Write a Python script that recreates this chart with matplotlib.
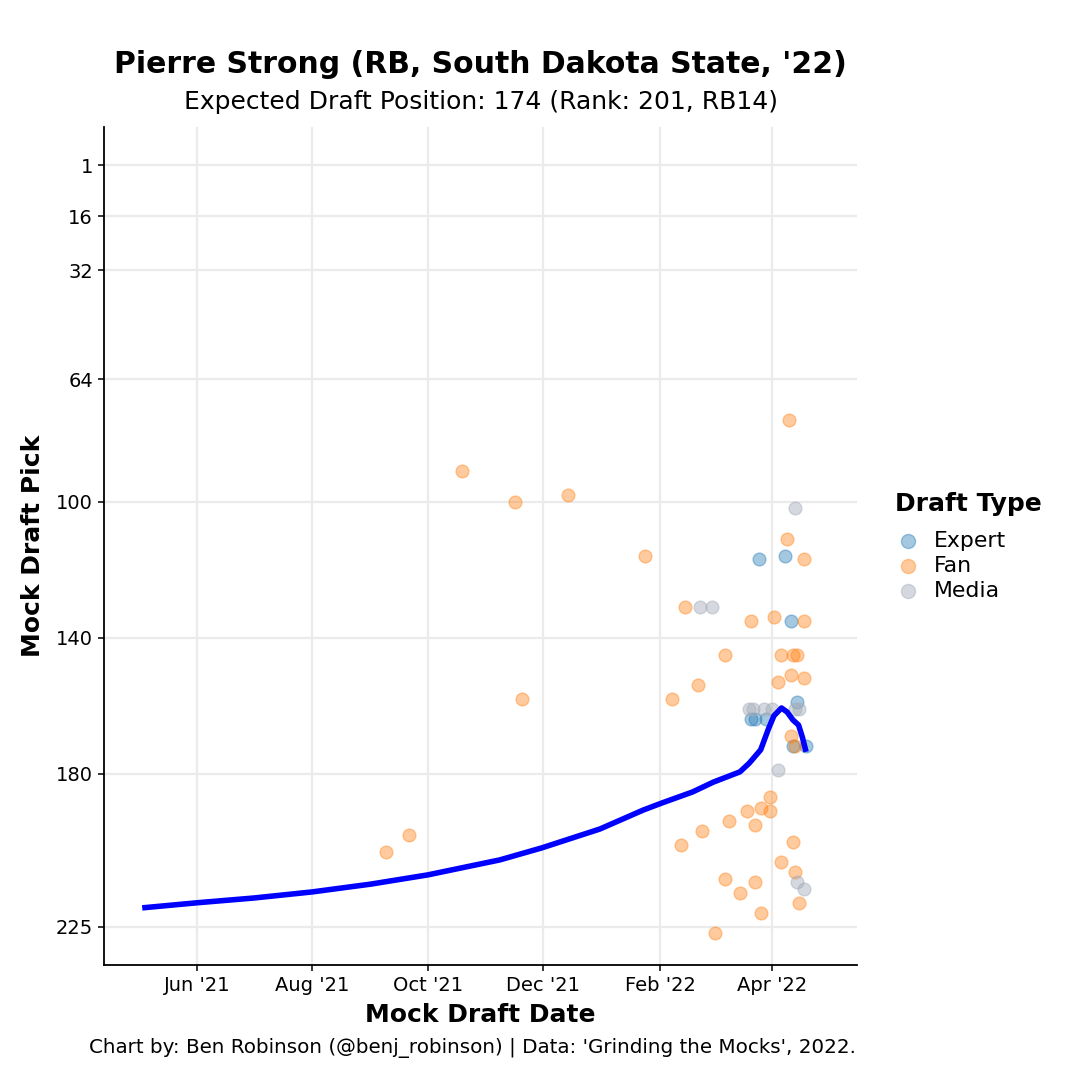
import matplotlib
matplotlib.use("Agg")
import matplotlib.pyplot as plt
import matplotlib.dates as mdates
import pandas as pd

# ---- data ----
expert_dates = ['2022-03-25', '2022-04-08', '2022-04-11', '2022-04-14', '2022-03-21',
                '2022-03-23', '2022-03-29', '2022-04-12', '2022-04-19']
expert_picks = [117, 116, 135, 159, 164, 164, 164, 172, 172]

fan_dates = ['2022-04-10', '2022-04-09', '2022-01-24', '2022-04-18',
             '2022-02-14', '2022-03-21', '2022-04-02', '2022-04-18',
             '2022-03-07', '2022-04-06', '2022-04-12', '2022-04-14',
             '2022-02-21', '2022-02-07', '2022-04-04', '2022-04-11', '2022-04-18',
             '2022-04-11', '2022-04-13',
             '2022-03-31', '2022-03-19', '2022-03-26', '2022-03-31', '2022-03-23',
             '2022-03-09', '2022-02-23', '2022-02-12', '2022-04-12', '2022-04-06',
             '2022-04-13', '2022-04-15', '2022-03-07', '2022-03-23', '2022-03-15',
             '2022-03-26', '2022-03-02',
             '2021-10-19', '2021-11-16', '2021-12-14', '2021-11-20',
             '2021-09-09', '2021-09-21']
fan_picks = [76, 111, 116, 117,
             131, 135, 134, 135,
             145, 145, 145, 145,
             154, 158, 153, 151, 152,
             169, 172,
             187, 191, 190, 191, 195,
             194, 197, 201, 200, 206,
             209, 218, 211, 212, 215,
             221, 227,
             91, 100, 98, 158,
             203, 198]

media_dates = ['2022-04-13', '2022-02-22', '2022-02-28', '2022-03-20', '2022-03-22',
               '2022-03-28', '2022-04-01', '2022-04-13', '2022-04-15', '2022-04-04',
               '2022-04-14', '2022-04-18']
media_picks = [102, 131, 131, 161, 161, 161, 161, 161, 161, 179, 212, 214]

# smoothed trend
trend_dates = ['2021-05-03', '2021-06-01', '2021-07-01', '2021-08-01', '2021-09-01',
               '2021-10-01', '2021-11-08', '2021-11-30', '2021-12-31', '2022-01-23',
               '2022-02-02', '2022-02-18', '2022-03-01', '2022-03-15', '2022-03-20',
               '2022-03-26', '2022-03-30', '2022-04-02', '2022-04-06', '2022-04-09',
               '2022-04-12', '2022-04-15', '2022-04-17', '2022-04-19']
trend_picks = [219.5, 218, 216.6, 214.8, 212.5,
               209.8, 205.4, 201.9, 196.3, 190.7,
               188.6, 185.4, 182.5, 179.5, 176.9,
               173, 167, 163, 160.7, 161.9,
               164.2, 165.7, 169.2, 173.6]

y_ticks = [1, 16, 32, 64, 100, 140, 180, 225]

fig = plt.figure(figsize=(10.8, 10.8), dpi=100)
ax = fig.add_axes([0.0963, 0.1065, 0.6972, 0.7759])

ax.scatter(pd.to_datetime(expert_dates), expert_picks, s=85, color='#1f77b4',
           alpha=0.4, edgecolors='#1f77b4', linewidths=1, label='Expert', zorder=3)
ax.scatter(pd.to_datetime(fan_dates), fan_picks, s=85, color='#ff7f0e',
           alpha=0.4, edgecolors='#ff7f0e', linewidths=1, label='Fan', zorder=3)
ax.scatter(pd.to_datetime(media_dates), media_picks, s=85, color='#a3acb9',
           alpha=0.45, edgecolors='#a3acb9', linewidths=1, label='Media', zorder=3)
ax.plot(pd.to_datetime(trend_dates), trend_picks, color='blue', lw=4,
        solid_capstyle='butt', solid_joinstyle='round', zorder=4)

ax.set_ylim(236.3, -10.2)
ax.set_yticks(y_ticks)
ax.set_xlim(pd.Timestamp('2021-04-12 19:00'), pd.Timestamp('2022-05-15 22:00'))
ax.xaxis.set_major_locator(mdates.MonthLocator(bymonth=[2, 4, 6, 8, 10, 12]))
ax.xaxis.set_major_formatter(mdates.DateFormatter("%b '%y"))

ax.grid(True, color='#ebebeb', lw=1.6, zorder=0)
ax.set_axisbelow(True)
for side in ['top', 'right']:
    ax.spines[side].set_visible(False)
for side in ['left', 'bottom']:
    ax.spines[side].set_linewidth(1.3)
ax.tick_params(labelsize=14, length=4, width=1.1, colors='black', pad=4)

ax.set_xlabel('Mock Draft Date', fontsize=18, fontweight='bold', labelpad=6)
ax.set_ylabel('Mock Draft Pick', fontsize=18, fontweight='bold', labelpad=8)

fig.text(0.445, 0.940, "Pierre Strong (RB, South Dakota State, '22)", ha='center',
         va='center', fontsize=21.5, fontweight='bold')
fig.text(0.445, 0.906, 'Expected Draft Position: 174 (Rank: 201, RB14)', ha='center',
         va='center', fontsize=18)
fig.text(0.437, 0.030, "Chart by: Ben Robinson (@benj_robinson) | Data: 'Grinding the Mocks', 2022.",
         ha='center', va='center', fontsize=14.3)

leg = ax.legend(title='Draft Type', loc='upper left', bbox_to_anchor=(0.8287, 0.5447),
                bbox_transform=fig.transFigure, frameon=False, fontsize=15.8,
                title_fontproperties={'weight': 'bold', 'size': 18},
                handlelength=1.2, handletextpad=0.55, labelspacing=0.23,
                markerscale=1.1, borderaxespad=0, borderpad=0)
leg._legend_box.align = 'left'
leg._legend_box.sep = 11

fig.savefig('out.png', dpi=100)
